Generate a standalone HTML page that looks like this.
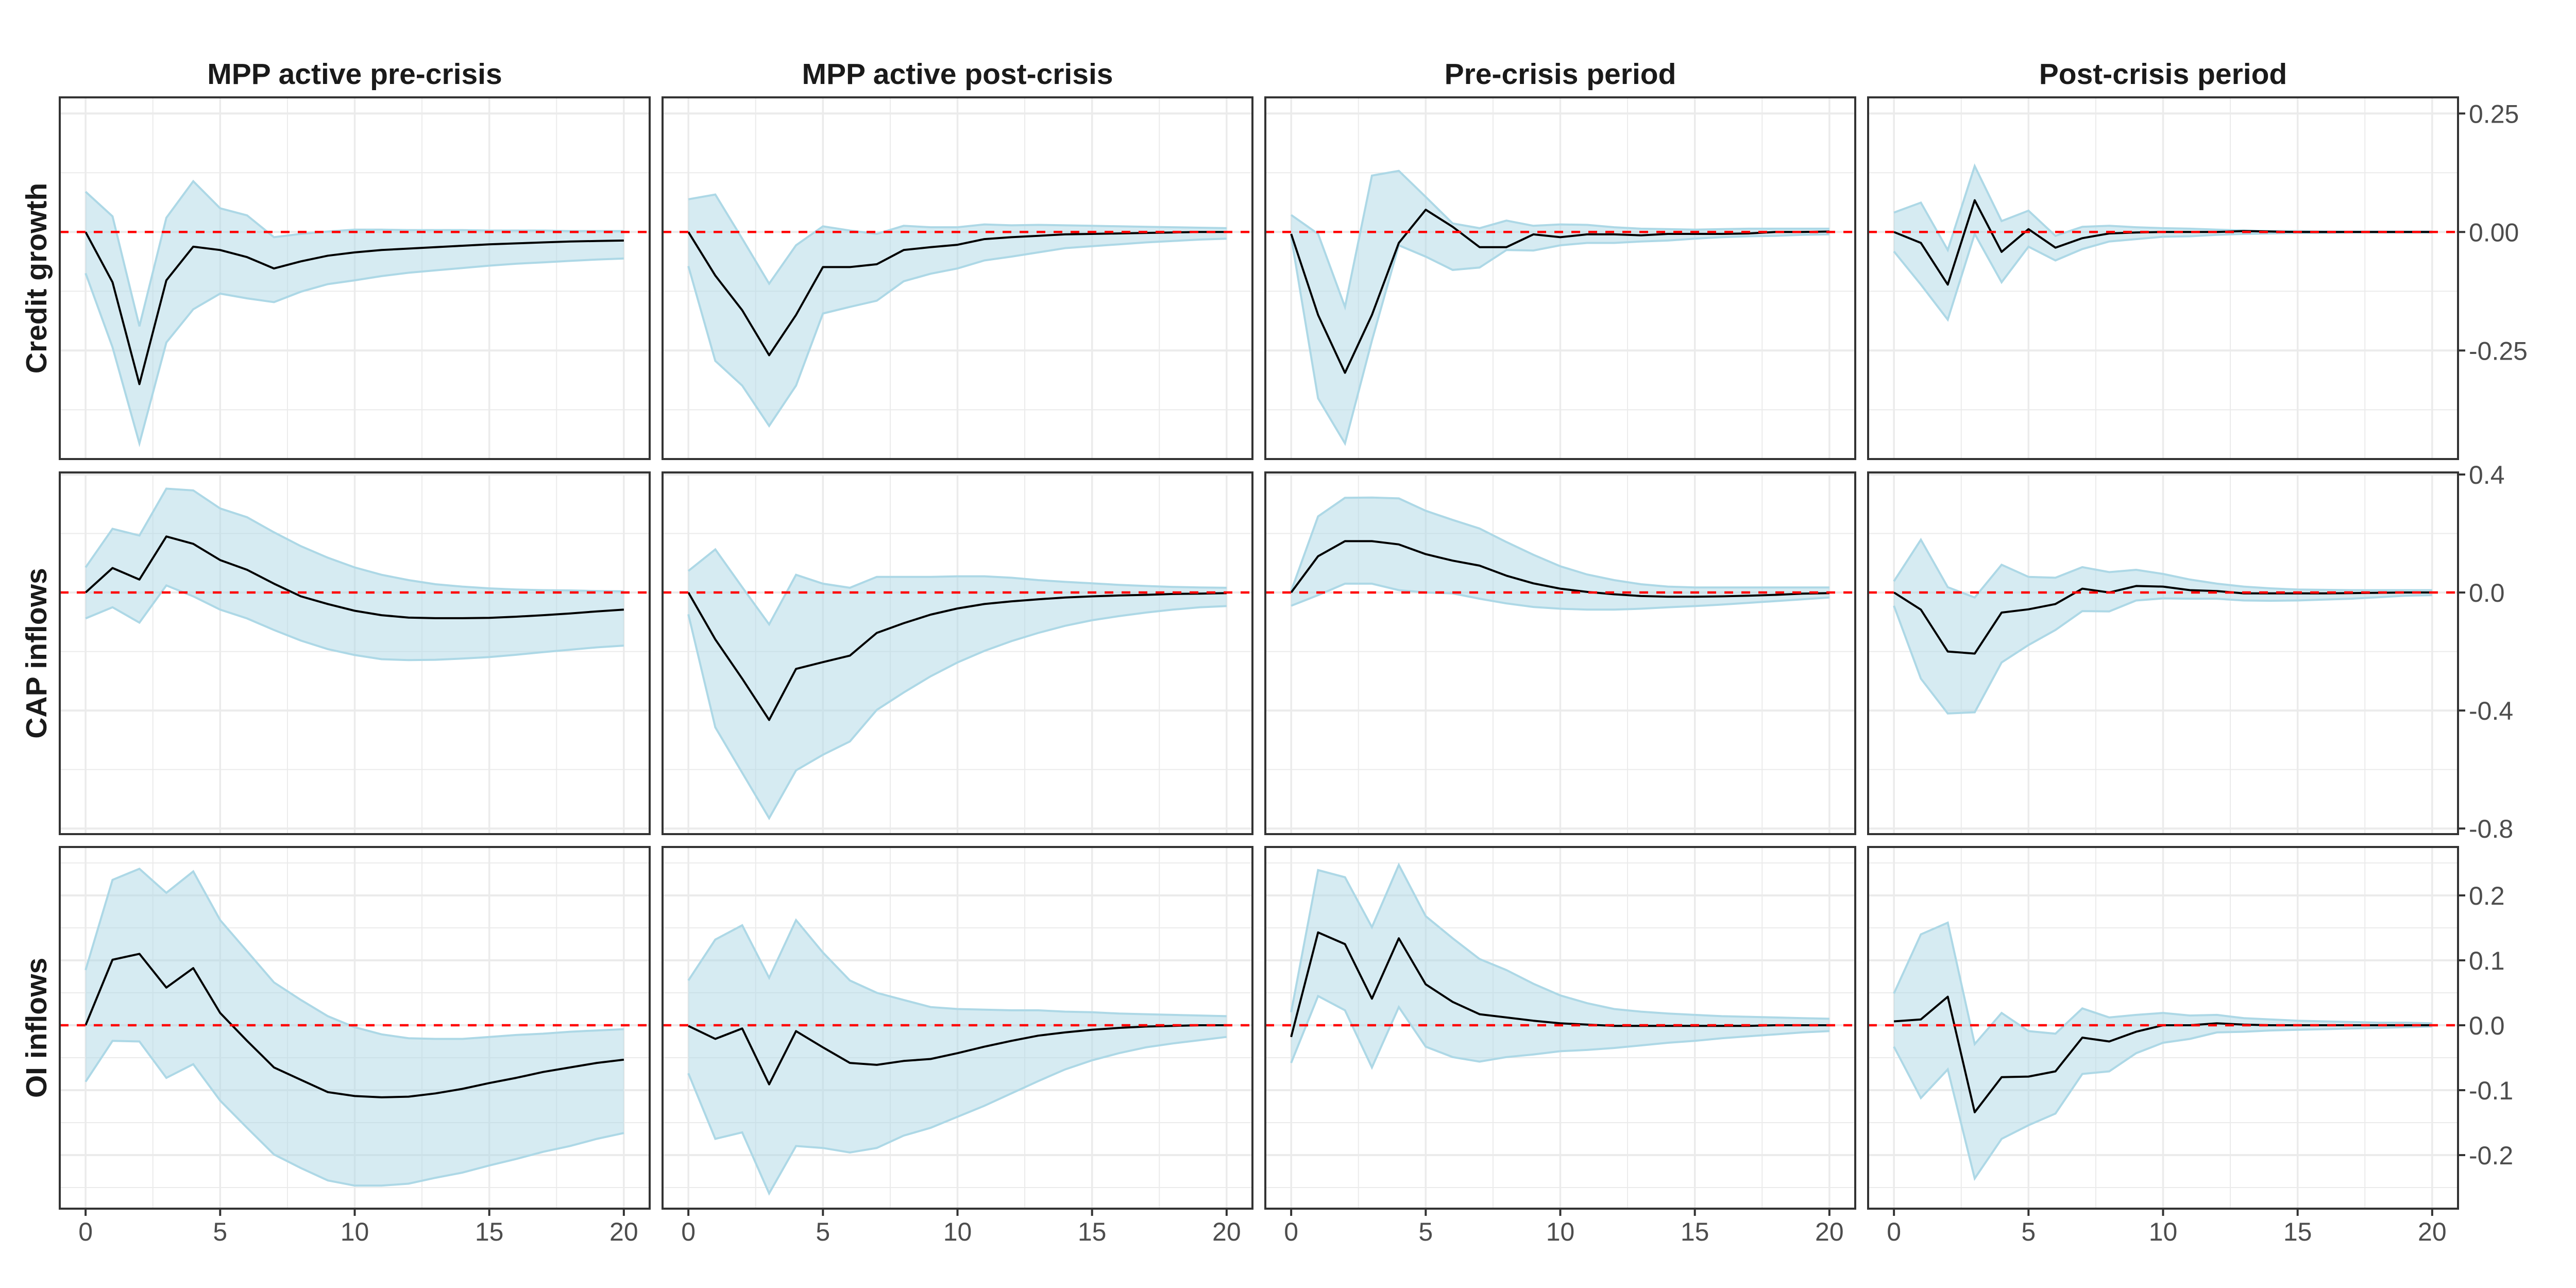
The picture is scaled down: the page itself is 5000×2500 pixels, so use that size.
<!DOCTYPE html>
<html><head><meta charset="utf-8"><style>
html,body{margin:0;padding:0;background:#fff;}
svg{display:block;}
text{font-family:"Liberation Sans",Arial,sans-serif;}
</style></head><body>
<svg id="chart" width="5000" height="2500" viewBox="0 0 5000 2500" xmlns="http://www.w3.org/2000/svg">
<rect width="5000" height="2500" fill="#ffffff"/>
</svg>
<script>
// ---- data ----
const horizons = [0,1,2,3,4,5,6,7,8,9,10,11,12,13,14,15,16,17,18,19,20];
const colTitles = ["MPP active pre-crisis","MPP active post-crisis","Pre-crisis period","Post-crisis period"];
const rowTitles = ["Credit growth","CAP inflows","OI inflows"];
const xTicks = [0,5,10,15,20];
const row1Ticks = [0.25,0,-0.25];
const row1TickLabels = ["0.25","0.00","-0.25"];
const row2Ticks = [0.4,0,-0.4,-0.8];
const row2TickLabels = ["0.4","0.0","-0.4","-0.8"];
const row3Ticks = [0.2,0.1,0,-0.1,-0.2];
const row3TickLabels = ["0.2","0.1","0.0","-0.1","-0.2"];

// Credit growth
const cg1Mean = [0,-0.106,-0.321,-0.102,-0.031,-0.038,-0.053,-0.077,-0.062,-0.050,-0.043,-0.038,-0.035,-0.032,-0.029,-0.026,-0.024,-0.022,-0.020,-0.019,-0.018];
const cg1Up = [0.085,0.033,-0.199,0.030,0.107,0.050,0.035,-0.011,-0.004,0.001,0.005,0.005,0.004,0.004,0.004,0.003,0.003,0.003,0.002,0.002,0.002];
const cg1Lo = [-0.087,-0.243,-0.446,-0.233,-0.163,-0.130,-0.140,-0.148,-0.126,-0.110,-0.102,-0.093,-0.086,-0.081,-0.076,-0.071,-0.067,-0.064,-0.061,-0.058,-0.056];
const cg2Mean = [0,-0.092,-0.165,-0.260,-0.175,-0.074,-0.074,-0.068,-0.038,-0.032,-0.027,-0.015,-0.011,-0.008,-0.005,-0.004,-0.003,-0.002,-0.001,0,0];
const cg2Up = [0.069,0.079,-0.014,-0.109,-0.028,0.012,0.003,-0.004,0.013,0.010,0.010,0.016,0.014,0.015,0.014,0.013,0.012,0.011,0.010,0.009,0.008];
const cg2Lo = [-0.072,-0.272,-0.324,-0.409,-0.324,-0.172,-0.158,-0.145,-0.104,-0.088,-0.077,-0.060,-0.052,-0.043,-0.034,-0.030,-0.026,-0.022,-0.019,-0.016,-0.014];
const cg3Mean = [-0.004,-0.175,-0.297,-0.175,-0.023,0.047,0.011,-0.032,-0.032,-0.005,-0.011,-0.005,-0.005,-0.007,-0.004,-0.004,-0.004,-0.003,0,0,0.001];
const cg3Up = [0.036,-0.004,-0.158,0.119,0.129,0.074,0.018,0.008,0.024,0.013,0.016,0.015,0.010,0.007,0.006,0.005,0.006,0.007,0.007,0.007,0.007];
const cg3Lo = [-0.010,-0.351,-0.446,-0.229,-0.028,-0.052,-0.080,-0.075,-0.038,-0.039,-0.028,-0.023,-0.023,-0.020,-0.018,-0.014,-0.011,-0.009,-0.008,-0.006,-0.005];
const cg4Mean = [0,-0.023,-0.111,0.067,-0.042,0.006,-0.033,-0.013,-0.003,-0.001,0,0,0,0.002,0.001,0,0,0,0,0,0];
const cg4Up = [0.041,0.062,-0.038,0.139,0.023,0.045,-0.008,0.011,0.013,0.010,0.008,0.007,0.005,0.003,0.002,0.002,0.001,0.001,0.001,0.001,0.001];
const cg4Lo = [-0.041,-0.111,-0.185,-0.004,-0.106,-0.031,-0.060,-0.036,-0.020,-0.015,-0.010,-0.009,-0.006,-0.004,-0.003,-0.002,-0.002,-0.001,-0.001,-0.001,-0.001];

// CAP inflows
const cap1Mean = [0,0.083,0.044,0.190,0.165,0.110,0.077,0.030,-0.013,-0.039,-0.062,-0.077,-0.085,-0.087,-0.087,-0.086,-0.082,-0.077,-0.071,-0.064,-0.058];
const cap1Up = [0.085,0.216,0.193,0.352,0.346,0.285,0.255,0.204,0.157,0.118,0.085,0.060,0.042,0.028,0.020,0.014,0.010,0.008,0.007,0.005,0.004];
const cap1Lo = [-0.088,-0.050,-0.102,0.024,-0.013,-0.058,-0.088,-0.127,-0.163,-0.192,-0.212,-0.226,-0.229,-0.228,-0.224,-0.219,-0.211,-0.202,-0.194,-0.186,-0.180];
const cap2Mean = [0,-0.159,-0.292,-0.432,-0.259,-0.236,-0.214,-0.137,-0.104,-0.075,-0.054,-0.039,-0.030,-0.023,-0.017,-0.013,-0.010,-0.008,-0.005,-0.004,-0.002];
const cap2Up = [0.073,0.146,0.018,-0.108,0.060,0.030,0.016,0.053,0.053,0.053,0.055,0.055,0.050,0.042,0.036,0.031,0.026,0.022,0.019,0.017,0.016];
const cap2Lo = [-0.074,-0.457,-0.611,-0.765,-0.603,-0.550,-0.505,-0.398,-0.339,-0.284,-0.237,-0.198,-0.165,-0.137,-0.113,-0.094,-0.080,-0.068,-0.058,-0.050,-0.046];
const cap3Mean = [0,0.123,0.174,0.174,0.163,0.130,0.108,0.091,0.057,0.031,0.013,0.002,-0.006,-0.012,-0.014,-0.014,-0.013,-0.011,-0.008,-0.004,-0.002];
const cap3Up = [0.005,0.258,0.321,0.322,0.319,0.277,0.246,0.217,0.171,0.128,0.089,0.061,0.042,0.028,0.020,0.017,0.017,0.017,0.017,0.017,0.017];
const cap3Lo = [-0.045,-0.009,0.030,0.030,0.008,0,-0.003,-0.021,-0.037,-0.049,-0.055,-0.058,-0.058,-0.055,-0.050,-0.046,-0.041,-0.035,-0.029,-0.023,-0.017];
const cap4Mean = [0,-0.058,-0.200,-0.207,-0.068,-0.057,-0.039,0.013,0,0.022,0.020,0.008,0.005,-0.003,-0.003,-0.003,-0.003,-0.002,-0.001,0,0];
const cap4Up = [0.038,0.179,0.018,-0.017,0.094,0.053,0.050,0.086,0.069,0.077,0.063,0.044,0.030,0.020,0.014,0.010,0.009,0.008,0.008,0.008,0.008];
const cap4Lo = [-0.045,-0.292,-0.410,-0.406,-0.237,-0.178,-0.127,-0.063,-0.064,-0.027,-0.020,-0.021,-0.021,-0.027,-0.028,-0.027,-0.024,-0.021,-0.016,-0.011,-0.009];

// OI inflows
const oi1Mean = [0,0.101,0.110,0.058,0.088,0.019,-0.024,-0.065,-0.084,-0.103,-0.109,-0.111,-0.110,-0.105,-0.098,-0.089,-0.081,-0.072,-0.065,-0.058,-0.053];
const oi1Up = [0.085,0.224,0.241,0.204,0.237,0.162,0.114,0.066,0.039,0.014,-0.003,-0.014,-0.020,-0.021,-0.021,-0.018,-0.015,-0.013,-0.010,-0.008,-0.006];
const oi1Lo = [-0.087,-0.024,-0.025,-0.081,-0.060,-0.116,-0.158,-0.199,-0.220,-0.239,-0.247,-0.247,-0.244,-0.235,-0.227,-0.216,-0.206,-0.195,-0.186,-0.175,-0.166];
const oi2Mean = [-0.001,-0.021,-0.005,-0.091,-0.009,-0.034,-0.058,-0.061,-0.055,-0.052,-0.043,-0.033,-0.024,-0.016,-0.011,-0.007,-0.004,-0.002,-0.001,0,0];
const oi2Up = [0.069,0.132,0.154,0.073,0.162,0.112,0.069,0.050,0.039,0.028,0.025,0.024,0.023,0.023,0.021,0.020,0.018,0.017,0.016,0.015,0.014];
const oi2Lo = [-0.074,-0.175,-0.165,-0.259,-0.186,-0.189,-0.196,-0.189,-0.170,-0.158,-0.141,-0.124,-0.105,-0.086,-0.068,-0.054,-0.043,-0.034,-0.028,-0.023,-0.018];
const oi3Mean = [-0.018,0.143,0.125,0.041,0.134,0.063,0.036,0.017,0.012,0.007,0.003,0.001,-0.001,-0.001,-0.001,-0.001,-0.001,-0.001,0,0,0];
const oi3Up = [0.020,0.239,0.228,0.151,0.247,0.168,0.134,0.102,0.085,0.064,0.046,0.034,0.025,0.021,0.018,0.016,0.014,0.013,0.012,0.011,0.010];
const oi3Lo = [-0.058,0.045,0.023,-0.065,0.028,-0.033,-0.049,-0.056,-0.049,-0.045,-0.040,-0.038,-0.035,-0.031,-0.027,-0.024,-0.020,-0.017,-0.014,-0.011,-0.009];
const oi4Mean = [0.006,0.009,0.044,-0.134,-0.080,-0.079,-0.071,-0.019,-0.025,-0.010,0,0,0.003,0.001,0,0,0,0,0,0,0];
const oi4Up = [0.049,0.140,0.158,-0.029,0.019,-0.009,-0.013,0.026,0.012,0.016,0.019,0.015,0.016,0.011,0.009,0.007,0.006,0.005,0.004,0.004,0.003];
const oi4Lo = [-0.033,-0.112,-0.068,-0.236,-0.175,-0.154,-0.136,-0.075,-0.071,-0.043,-0.027,-0.021,-0.011,-0.010,-0.008,-0.007,-0.006,-0.005,-0.004,-0.003,-0.002];

const panels = [
  [[cg1Mean,cg1Up,cg1Lo],[cg2Mean,cg2Up,cg2Lo],[cg3Mean,cg3Up,cg3Lo],[cg4Mean,cg4Up,cg4Lo]],
  [[cap1Mean,cap1Up,cap1Lo],[cap2Mean,cap2Up,cap2Lo],[cap3Mean,cap3Up,cap3Lo],[cap4Mean,cap4Up,cap4Lo]],
  [[oi1Mean,oi1Up,oi1Lo],[oi2Mean,oi2Up,oi2Lo],[oi3Mean,oi3Up,oi3Lo],[oi4Mean,oi4Up,oi4Lo]]
];
const rowDomains = [[-0.479,0.284],[-0.819,0.407],[-0.2825,0.2746]];
const rowTickVals = [row1Ticks,row2Ticks,row3Ticks];
const rowTickTexts = [row1TickLabels,row2TickLabels,row3TickLabels];
const rowMinor = [[0.125,-0.125,-0.375],[0.2,-0.2,-0.6],[0.25,0.15,0.05,-0.05,-0.15,-0.25]];

// ---- layout ----
const NS = "http://www.w3.org/2000/svg";
const svg = document.getElementById("chart");
const PX0 = 116, PW = 1145, PGAP = 25;
const PY0 = [189, 917, 1644], PH = 702;
function mk(tag, attrs, parent){
  const e = document.createElementNS(NS, tag);
  for (const k in attrs) e.setAttribute(k, attrs[k]);
  (parent||svg).appendChild(e);
  return e;
}
function xScale(c, v){ const l = PX0 + c*(PW+PGAP); return l + (v + 0.96) / 21.92 * PW; }
function yScale(r, v){ const d = rowDomains[r]; return PY0[r] + (d[1] - v) / (d[1] - d[0]) * PH; }

// column titles
colTitles.forEach((t, c) => {
  const e = mk("text", {x: PX0 + c*(PW+PGAP) + PW/2, y: 163, "text-anchor":"middle", "font-size":"57", "font-weight":"bold", fill:"#1a1a1a"});
  e.textContent = t;
  
  
});
// row titles
rowTitles.forEach((t, r) => {
  const cy = PY0[r] + PH/2;
  const e = mk("text", {x: 0, y: 0, transform: `translate(90,${cy}) rotate(-90)`, "text-anchor":"middle", "font-size":"57", "font-weight":"bold", fill:"#1a1a1a"});
  e.textContent = t;
  
  
});

for (let r = 0; r < 3; r++){
  for (let c = 0; c < 4; c++){
    const g = mk("g", {});
    
    
    const l = PX0 + c*(PW+PGAP), t = PY0[r];
    mk("clipPath", {id:`cp${r}${c}`}, g);
    mk("rect", {x:l, y:t, width:PW, height:PH}, g.lastChild);
    // grid
    rowMinor[r].forEach(v => { const y = yScale(r, v); if (y>t && y<t+PH) mk("line", {x1:l, x2:l+PW, y1:y, y2:y, stroke:"#ebebeb", "stroke-width":2}, g); });
    [2.5,7.5,12.5,17.5].forEach(v => { const x = xScale(c, v); mk("line", {x1:x, x2:x, y1:t, y2:t+PH, stroke:"#ebebeb", "stroke-width":2}, g); });
    rowTickVals[r].forEach(v => { const y = yScale(r, v); mk("line", {x1:l, x2:l+PW, y1:y, y2:y, stroke:"#ebebeb", "stroke-width":4}, g); });
    xTicks.forEach(v => { const x = xScale(c, v); mk("line", {x1:x, x2:x, y1:t, y2:t+PH, stroke:"#ebebeb", "stroke-width":3.5}, g); });
    const [mean, up, lo] = panels[r][c];
    // ribbon
    let d = "";
    horizons.forEach((h, i) => { d += (i ? "L" : "M") + xScale(c, h).toFixed(1) + "," + yScale(r, up[i]).toFixed(1); });
    for (let i = horizons.length - 1; i >= 0; i--) d += "L" + xScale(c, horizons[i]).toFixed(1) + "," + yScale(r, lo[i]).toFixed(1);
    const rib = mk("path", {d: d + "Z", fill:"#add8e6", "fill-opacity":"0.5", stroke:"none", "clip-path":`url(#cp${r}${c})`}, g);
    
    
    const pu = horizons.map((h,i)=>xScale(c,h).toFixed(1)+","+yScale(r,up[i]).toFixed(1)).join(" ");
    const pl = horizons.map((h,i)=>xScale(c,h).toFixed(1)+","+yScale(r,lo[i]).toFixed(1)).join(" ");
    const ub = mk("polyline", {points: pu, fill:"none", stroke:"#add8e6", "stroke-width":4, "clip-path":`url(#cp${r}${c})`}, g);
    
    
    const lb = mk("polyline", {points: pl, fill:"none", stroke:"#add8e6", "stroke-width":4, "clip-path":`url(#cp${r}${c})`}, g);
    
    
    const pm = horizons.map((h,i)=>xScale(c,h).toFixed(1)+","+yScale(r,mean[i]).toFixed(1)).join(" ");
    const ml = mk("polyline", {points: pm, fill:"none", stroke:"#000", "stroke-width":4, "stroke-linejoin":"round"}, g);
    
    
    const y0 = yScale(r, 0);
    const zl = mk("line", {x1:l, x2:l+PW, y1:y0, y2:y0, stroke:"#ff0000", "stroke-width":4.5, "stroke-dasharray":"17,16"}, g);
    
    
    mk("rect", {x:l, y:t, width:PW, height:PH, fill:"none", stroke:"#333333", "stroke-width":4}, g);
    // x axis under bottom row
    if (r === 2){
      xTicks.forEach(v => {
        const x = xScale(c, v);
        mk("line", {x1:x, x2:x, y1:t+PH, y2:t+PH+14, stroke:"#333333", "stroke-width":4}, g);
        const e = mk("text", {x:x, y:2408, "text-anchor":"middle", "font-size":"50", fill:"#4d4d4d"}, g);
        e.textContent = String(v);
        
        
      });
    }
    // y axis on right of last column
    if (c === 3){
      rowTickVals[r].forEach((v, k) => {
        const y = yScale(r, v);
        mk("line", {x1:l+PW, x2:l+PW+14, y1:y, y2:y, stroke:"#333333", "stroke-width":4}, g);
        const e = mk("text", {x:l+PW+21, y:y+18, "font-size":"50", fill:"#4d4d4d"}, g);
        e.textContent = rowTickTexts[r][k];
        
        
      });
    }
  }
}
</script>
</body></html>
